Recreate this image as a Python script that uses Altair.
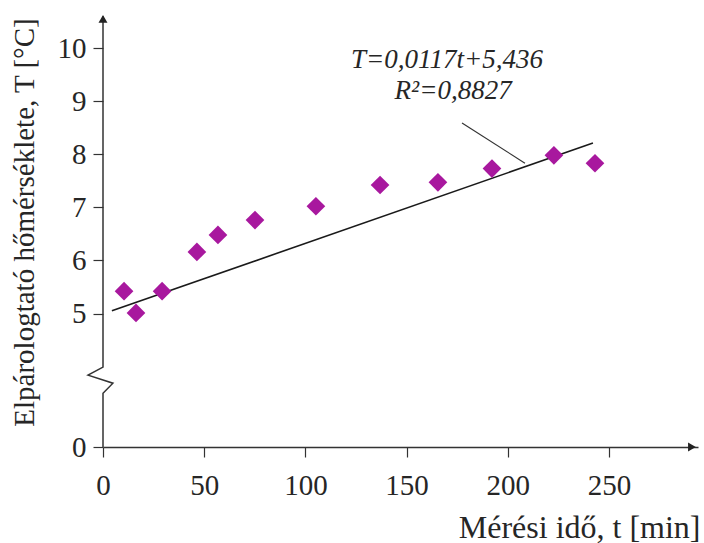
import altair as alt
import pandas as pd

t_vals = [10.4, 16.3, 29.2, 46.4, 56.8, 75.1, 105.2, 136.9, 165.5, 192.2, 222.8, 243.1]
T_vals = [5.42, 5.01, 5.42, 6.16, 6.48, 6.76, 7.02, 7.42, 7.47, 7.73, 7.98, 7.83]

# Trend line as drawn (end points)
fit_t = [4.4, 242.1]
fit_T = [5.05, 8.21]

# Leader line from the equation to the trend line
lead_t = [177.4, 208.5]
lead_T = [8.59, 7.83]

# Equation text
eq_text = ["T=0,0117t+5,436", "R\u00b2=0,8827"]
eq_t = [170, 173]
eq_T = [9.62, 9.04]

# Broken y-axis path (with zig-zag)
yax_t = [0, 0, 4.9, -7.4, 0, 0]
yax_T = [0, 2.01, 2.39, 2.69, 2.99, 10.6]

# Axis arrows
arr_t = [0, 291]
arr_T = [10.55, 0]
arr_shape = ["triangle-up", "triangle-right"]

x_ticks = [0, 50, 100, 150, 200, 250]
y_ticks = [0, 5, 6, 7, 8, 9, 10]

X_MAX = 294
Y_TOP = 10.66

FONT = "Liberation Serif"
TXT = "#262626"
LINE = "#333333"

pts = pd.DataFrame({"t": t_vals, "T": T_vals})
fit = pd.DataFrame({"t": fit_t, "T": fit_T})
lead = pd.DataFrame({"t": lead_t, "T": lead_T})
eq = pd.DataFrame({"t": eq_t, "T": eq_T, "label": eq_text})
yax = pd.DataFrame({"t": yax_t, "T": yax_T, "o": list(range(len(yax_t)))})
arr = pd.DataFrame({"t": arr_t, "T": arr_T, "shape": arr_shape})

x_scale = alt.Scale(domain=[0, X_MAX], nice=False, zero=False)
y_scale = alt.Scale(domain=[0, 5, Y_TOP], range=[434, 300.5, 0], nice=False, zero=False)


def X():
    return alt.X(
        "t:Q",
        scale=x_scale,
        axis=alt.Axis(
            values=x_ticks,
            title="Mérési idő, t [min]",
            grid=False,
            domain=True,
            domainColor=LINE,
            domainWidth=1.5,
            tickColor=LINE,
            tickWidth=1.2,
            tickSize=10,
            labelPadding=14,
            labelFont=FONT,
            labelFontSize=29,
            labelColor=TXT,
            labelFlush=False,
            labelOverlap=False,
            titleFont=FONT,
            titleFontSize=32,
            titleFontWeight="normal",
            titleColor=TXT,
            titleX=597,
            titleY=90,
            titleAlign="right",
            titleBaseline="alphabetic",
        ),
    )


def Y():
    return alt.Y(
        "T:Q",
        scale=y_scale,
        axis=alt.Axis(
            values=y_ticks,
            title="Elpárologtató hőmérséklete, T [°C]",
            grid=False,
            domain=False,
            tickColor=LINE,
            tickWidth=1.2,
            tickSize=10,
            labelPadding=7,
            labelFont=FONT,
            labelFontSize=29,
            labelColor=TXT,
            labelFlush=False,
            labelOverlap=False,
            titleFont=FONT,
            titleFontSize=29,
            titleFontWeight="normal",
            titleColor=TXT,
            titleX=-70,
            titleY=209,
            titleAlign="center",
            titleBaseline="alphabetic",
            titleAngle=270,
        ),
    )


points = alt.Chart(pts).mark_point(
    shape="diamond", filled=True, size=350, color="#A8189E", opacity=1
).encode(x=X(), y=Y())

fit_line = alt.Chart(fit).mark_line(color="#1a1a1a", strokeWidth=1.6).encode(x=X(), y=Y())

lead_line = alt.Chart(lead).mark_line(color="#333333", strokeWidth=1.2).encode(x=X(), y=Y())

y_axis_line = alt.Chart(yax).mark_line(color=LINE, strokeWidth=1.5).encode(
    x=X(), y=Y(), order="o:Q"
)

arrows = alt.Chart(arr).mark_point(filled=True, size=80, color="#222222", opacity=1).encode(
    x=X(), y=Y(), shape=alt.Shape("shape:N", scale=None, legend=None)
)

eq_txt = alt.Chart(eq).mark_text(
    font=FONT, fontSize=27, fontStyle="italic", color=TXT, align="center", baseline="alphabetic"
).encode(x=X(), y=Y(), text="label:N")

chart = (
    alt.layer(y_axis_line, fit_line, lead_line, points, arrows, eq_txt)
    .properties(
        width=595,
        height=434,
        autosize=alt.AutoSizeParams(type="none"),
        padding={"left": 103, "top": 13, "right": 6, "bottom": 96},
        background="white",
    )
    .configure_view(stroke=None)
)

chart.save("out.html", embed_options={"renderer": "svg", "actions": False})
